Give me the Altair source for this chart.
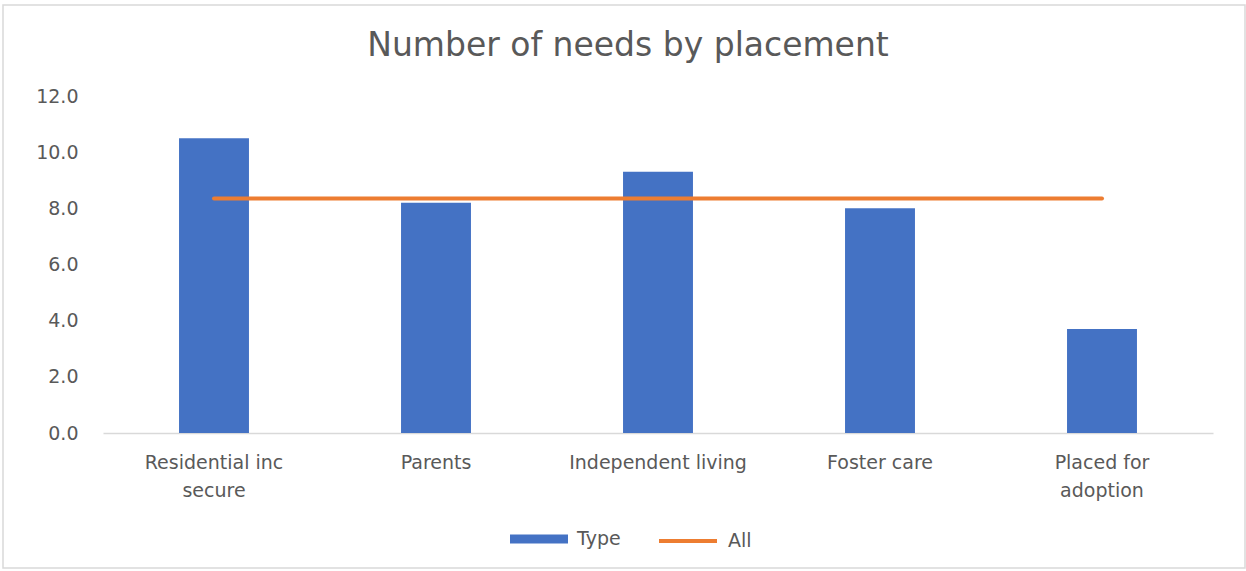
import altair as alt
import pandas as pd

categories = ["Residential inc\nsecure", "Parents", "Independent living", "Foster care", "Placed for\nadoption"]
type_values = [10.5, 8.2, 9.3, 8.0, 3.7]
all_values = [8.35, 8.35, 8.35, 8.35, 8.35]
y_ticks = [0, 2, 4, 6, 8, 10, 12]
TYPE_COLOR = "#4472C4"
ALL_COLOR = "#ED7D31"

rows = []
for c, v in zip(categories, type_values):
    rows.append({"category": c, "series": "Type", "value": v})
for c, v in zip(categories, all_values):
    rows.append({"category": c, "series": "All", "value": v})
df = pd.DataFrame(rows)

FONT = "DejaVu Sans"
GREY = "#595959"

x_enc = alt.X(
    "category:N",
    sort=categories,
    title=None,
    scale=alt.Scale(paddingInner=0.685, paddingOuter=0.3425),
    axis=alt.Axis(
        labelAngle=0,
        labelExpr="split(datum.label, '\\n')",
        labelFont=FONT,
        labelFontSize=19,
        labelColor=GREY,
        labelLineHeight=28,
        labelPadding=20,
        labelBaseline="top",
        ticks=False,
        domainColor="#D9D9D9",
        domainWidth=1.5,
        grid=False,
    ),
)
y_enc = alt.Y(
    "value:Q",
    title=None,
    scale=alt.Scale(domain=[0, 12], nice=False),
    axis=alt.Axis(
        values=y_ticks,
        format=".1f",
        labelFont=FONT,
        labelFontSize=19,
        labelColor=GREY,
        labelPadding=25,
        ticks=False,
        domain=False,
        grid=False,
    ),
)

legend_common = dict(
    title=None,
    orient="none",
    direction="horizontal",
    labelFont=FONT,
    labelFontSize=19,
    labelColor=GREY,
    labelOffset=9,
    symbolSize=3364,
)

base = alt.Chart(df).encode(x=x_enc, y=y_enc)
bars = base.transform_filter(alt.datum.series == "Type").mark_bar().encode(
    fill=alt.Fill(
        "series:N",
        scale=alt.Scale(domain=["Type"], range=[TYPE_COLOR]),
        legend=alt.Legend(
            legendX=407,
            legendY=414,
            symbolType="M-1,-0.155H1V0.155H-1Z",
            symbolStrokeWidth=0,
            symbolOpacity=1,
            **legend_common,
        ),
    )
)
line = base.transform_filter(alt.datum.series == "All").mark_line(
    strokeWidth=4, strokeCap="round"
).encode(
    stroke=alt.Stroke(
        "series:N",
        scale=alt.Scale(domain=["All"], range=[ALL_COLOR]),
        legend=alt.Legend(
            legendX=554,
            legendY=414,
            symbolType="stroke",
            symbolStrokeWidth=4,
            **legend_common,
        ),
    )
)

# light outer frame around the whole chart (decoration only)
frame = alt.Chart(pd.DataFrame({"f": [0]})).mark_rect(
    fillOpacity=0, stroke="#D9D9D9", strokeWidth=1.5
).encode(
    x=alt.value(-100), x2=alt.value(1142), y=alt.value(-91), y2=alt.value(472)
)

chart = (
    alt.layer(frame, bars, line)
    .resolve_legend(fill="independent", stroke="independent")
    .properties(
        width=1110,
        height=337,
        background="white",
        title=alt.TitleParams(
            "Number of needs by placement",
            font=FONT,
            fontSize=33,
            fontWeight="normal",
            color=GREY,
            anchor="middle",
            frame="group",
            dx=-30,
            offset=-59,
        ),
        autosize=alt.AutoSizeParams(type="none"),
        padding={"left": 103, "top": 96, "right": 33, "bottom": 138},
    )
    .configure_view(stroke="transparent", strokeWidth=0)
)

chart.save("out.html", embed_options={"renderer": "svg", "actions": False})
